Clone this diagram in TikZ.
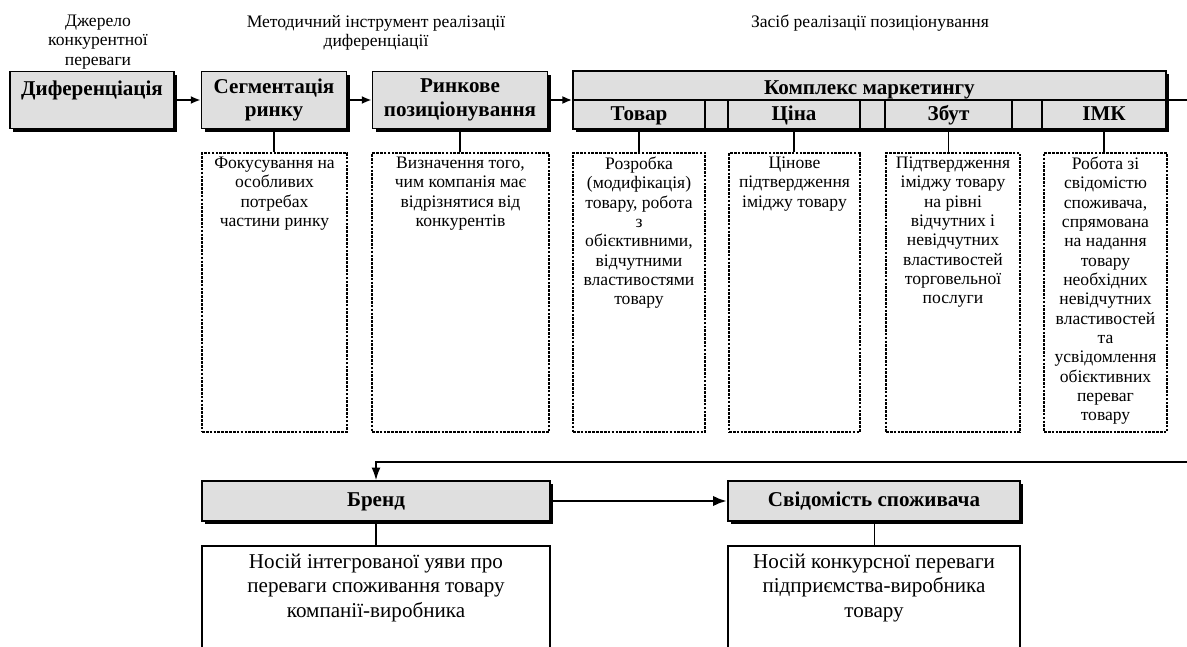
\documentclass[tikz,border=0pt]{standalone}
\usepackage{fontspec}
\setmainfont{Liberation Serif}
\usetikzlibrary{arrows.meta,positioning,shadows}

\begin{document}
\begin{tikzpicture}[x=0.02cm,y=-0.02cm,
		box/.style={draw,line width=1.1pt,fill=gray!25,align=center,inner sep=0pt,
			font=\fontsize{12}{13.6}\selectfont\bfseries,
			drop shadow={shadow xshift=1.8pt,shadow yshift=-1.8pt,fill=black,opacity=1}},
		cell/.style={draw,line width=0.9pt,fill=gray!25,inner sep=0pt,minimum height=0.58cm,
			text height=8.5pt,text depth=1.5pt,font=\fontsize{12}{13.6}\selectfont\bfseries},
		desc/.style={draw,line width=1pt,dash pattern=on 1.5pt off 0.7pt,inner sep=0pt,minimum height=5.58cm},
		desctext/.style={font=\fontsize{10}{11}\selectfont,align=center,inner sep=0pt},
		note/.style={draw,line width=0.8pt,inner sep=0pt,minimum height=2.4cm},
		notetext/.style={font=\fontsize{12}{14.2}\selectfont,align=center,inner sep=0pt},
		top/.style={font=\fontsize{10}{11}\selectfont,align=center,inner sep=0pt},
		arr/.style={-{Latex[length=5.5pt,width=4.5pt]},line width=1pt}]
	\useasboundingbox (0,0) rectangle (1187,646);
	% headings
	\node[top] (src) at (98,42) {Джерело\\конкурентної\\переваги};
	\node[top] (tool) at (376,33) {Методичний інструмент реалізації\\диференціації};
	\node[top] (means) at (870,23) {Засіб реалізації позиціонування};
	% upper row
	\node[box,minimum width=3.28cm,minimum height=1.14cm] (dif) at (92,100) {Диференціація\\ \mbox{}};
	\node[box,minimum width=2.9cm,minimum height=1.14cm] (segm) at (274,100) {Сегментація\\ринку};
	\node[box,minimum width=3.5cm,minimum height=1.14cm] (pos) at (460,100) {Ринкове\\позиціонування};
	\node[box,minimum width=11.86cm,minimum height=1.16cm] (mix) at (869.5,100) {Комплекс маркетингу\\ \mbox{}};
	\node[cell,minimum width=2.64cm] (tovar) at (639,114.5) {Товар};
	\node[cell,minimum width=0.46cm] (g1) at (716.5,114.5) {};
	\node[cell,minimum width=2.64cm] (tsina) at (794,114.5) {Ціна};
	\node[cell,minimum width=0.5cm] (g2) at (872.5,114.5) {};
	\node[cell,minimum width=2.54cm] (zbut) at (948.5,114.5) {Збут};
	\node[cell,minimum width=0.6cm] (g3) at (1027,114.5) {};
	\node[cell,minimum width=2.48cm] (imk) at (1104,114.5) {ІМК};
	\draw[arr] (dif) -- (segm);
	\draw[arr] (segm) -- (pos);
	\draw[arr] (pos) -- (mix.west |- pos);
	% dashed boxes
	\node[desc,minimum width=2.9cm] (dsegm) at (274.5,292.5) {};
	\node[desc,minimum width=3.54cm] (dpos) at (460.5,292.5) {};
	\node[desc,minimum width=2.64cm] (dtovar) at (639,292.5) {};
	\node[desc,minimum width=2.62cm] (dtsina) at (794.5,292.5) {};
	\node[desc,minimum width=2.68cm] (dzbut) at (953,292.5) {};
	\node[desc,minimum width=2.46cm] (dimk) at (1105.5,292.5) {};
	\node[desctext,below=2.5pt of dsegm.north] (tsegm) {Фокусування на\\особливих\\потребах\\частини ринку};
	\node[desctext,below=2.5pt of dpos.north] (tpos) {Визначення того,\\чим компанія має\\відрізнятися від\\конкурентів};
	\node[desctext,below=2.5pt of dtovar.north] (ttovar) {Розробка\\(модифікація)\\товару, робота\\з\\обієктивними,\\відчутними\\властивостями\\товару};
	\node[desctext,below=2.5pt of dtsina.north] (ttsina) {Цінове\\підтвердження\\іміджу товару};
	\node[desctext,below=2.5pt of dzbut.north] (tzbut) {Підтвердження\\іміджу товару\\на рівні\\відчутних і\\невідчутних\\властивостей\\торговельної\\послуги};
	\node[desctext,below=2.5pt of dimk.north] (timk) {Робота зі\\свідомістю\\споживача,\\спрямована\\на надання\\товару\\необхідних\\невідчутних\\властивостей\\та\\усвідомлення\\обієктивних\\переваг\\товару};
	\draw[line width=0.6pt] (segm.south) -- (segm.south |- dsegm.north);
	\draw[line width=0.6pt] (pos.south) -- (pos.south |- dpos.north);
	\draw[line width=0.6pt] (tovar.south) -- (tovar.south |- dtovar.north);
	\draw[line width=0.6pt] (tsina.south) -- (tsina.south |- dtsina.north);
	\draw[line width=0.6pt] (zbut.south) -- (zbut.south |- dzbut.north);
	\draw[line width=0.6pt] (imk.south) -- (imk.south |- dimk.north);
	% lower row
	\node[box,minimum width=6.96cm,minimum height=0.8cm,text depth=2pt] (brand) at (376,501) {Бренд};
	\node[box,minimum width=5.84cm,minimum height=0.8cm,text depth=2pt] (svid) at (874,501) {Свідомість споживача};
	\node[note,minimum width=6.96cm] (dbrand) at (376,606) {};
	\node[note,minimum width=5.84cm] (dsvid) at (874,606) {};
	\node[notetext,below=4.5pt of dbrand.north] (tbrand) {Носій інтегрованої уяви про\\переваги споживання товару\\компанії-виробника};
	\node[notetext,below=4.5pt of dsvid.north] (tsvid) {Носій конкурсної переваги\\підприємства-виробника\\товару};
	\draw[line width=1pt] (brand.south) -- (dbrand.north);
	\draw[line width=0.5pt] (svid.south) -- (dsvid.north);
	\draw[-{Latex[length=8pt,width=6pt]},line width=1.6pt] (brand) -- (svid);
	% back to the brand
	\coordinate (fb) at (1200,462);
	\draw[-{Latex[length=7pt,width=5pt]},line width=0.7pt] (mix.east) -| (fb) -| (brand.north);
\end{tikzpicture}
\end{document}
